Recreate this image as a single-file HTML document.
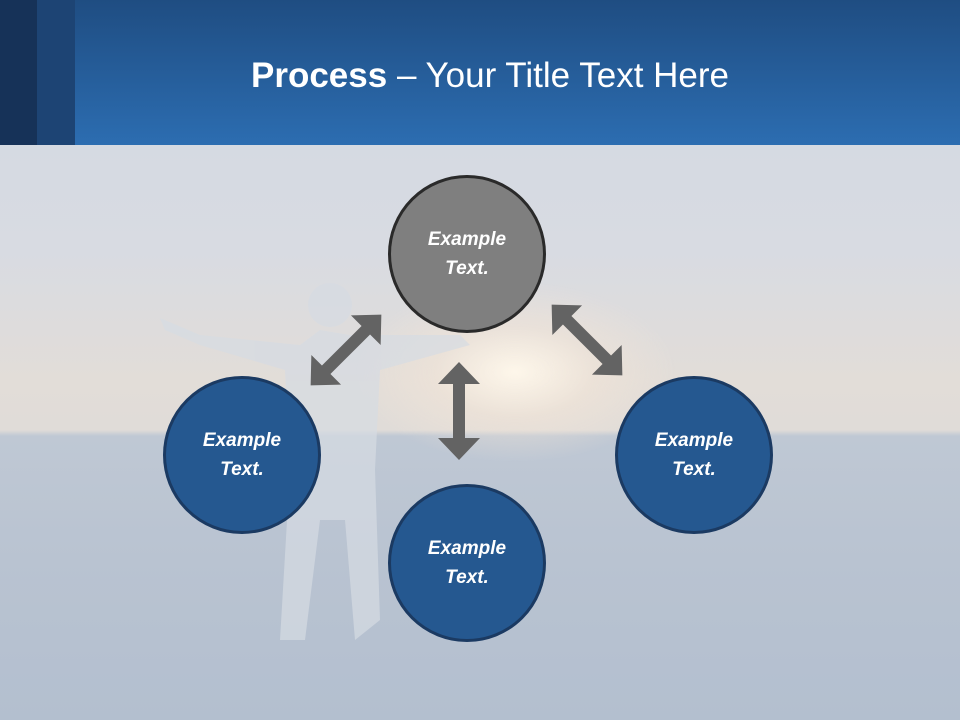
<!DOCTYPE html>
<html><head><meta charset="utf-8"><style>
html,body{margin:0;padding:0}
body{width:960px;height:720px;position:relative;overflow:hidden;font-family:"Liberation Sans",sans-serif;
background:
radial-gradient(ellipse 160px 90px at 515px 372px, rgba(255,248,235,0.95), rgba(245,230,215,0.5) 50%, rgba(0,0,0,0) 100%),
linear-gradient(to bottom,#d5dae2 145px,#d8dbe2 250px,#e2ddd8 380px,#e0dcd8 430px,#bfc8d4 436px,#b9c3d1 560px,#b3bfcf 720px);}
.hdr{position:absolute;left:0;top:0;width:960px;height:145px;background:linear-gradient(to bottom,#1f4d82,#2c6db1);}
.s1{position:absolute;left:0;top:0;width:37px;height:145px;background:#163258}
.s2{position:absolute;left:37px;top:0;width:38px;height:145px;background:#1d4474}
.title{position:absolute;left:0;width:980px;top:56px;text-align:center;color:#fff;font-size:35px}
.c{position:absolute;width:158px;height:158px;border-radius:50%;box-sizing:border-box;border:3px solid #1b3a62;background:#255890;color:#fff;font-weight:bold;font-style:italic;font-size:19px;line-height:29px;display:flex;align-items:center;justify-content:center;text-align:center}
.g{background:#7f7f7f;border-color:#2a2a2a}
</style></head><body>
<div class="hdr"><div class="s1"></div><div class="s2"></div>
<div class="title"><b>Process</b> – Your Title Text Here</div></div>
<svg style="position:absolute;left:0;top:0" width="960" height="720">
<g fill="#d6dbe3" opacity="0.7">
<circle cx="330" cy="305" r="22"/>
<path d="M160 318 L200 335 L300 345 L320 330 L350 335 L460 335 L470 345 L380 370 L375 470 L380 620 L355 640 L345 520 L320 520 L305 640 L280 640 L290 470 L285 370 L200 345 L165 330Z"/>
</g>
<g fill="#636363">
<path d="M459 362 L480 384 L465 384 L465 438 L480 438 L459 460 L438 438 L453 438 L453 384 L438 384Z"/>
<g transform="translate(346,350) rotate(-45)"><path d="M-50 0 L-28 -21 L-28 -6 L28 -6 L28 -21 L50 0 L28 21 L28 6 L-28 6 L-28 21Z"/></g>
<g transform="translate(587,340) rotate(45)"><path d="M-50 0 L-28 -21 L-28 -6 L28 -6 L28 -21 L50 0 L28 21 L28 6 L-28 6 L-28 21Z"/></g>
</g>
</svg>
<div class="c g" style="left:388px;top:175px">Example<br>Text.</div>
<div class="c" style="left:163px;top:376px">Example<br>Text.</div>
<div class="c" style="left:615px;top:376px">Example<br>Text.</div>
<div class="c" style="left:388px;top:484px">Example<br>Text.</div>
</body></html>
